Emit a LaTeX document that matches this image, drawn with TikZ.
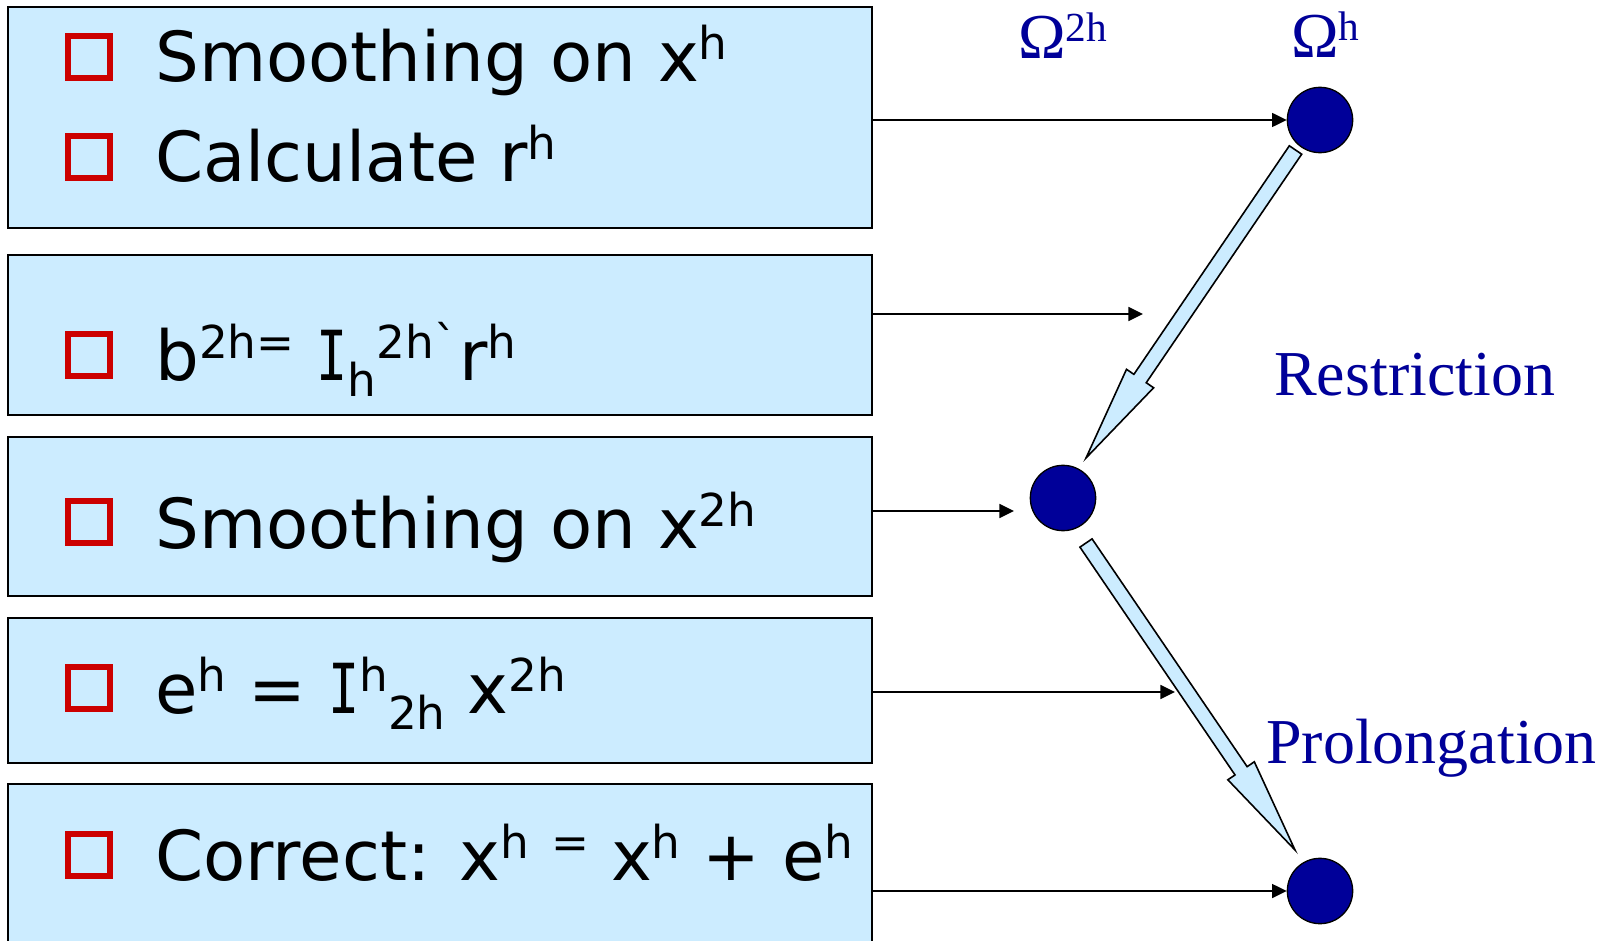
\documentclass[tikz,border=0pt]{standalone}
\usepackage{fontspec}
\setmainfont{DejaVu Sans}
\newfontfamily\serfont{Liberation Serif}
\newfontfamily\serifI{DejaVu Sans Mono}
\usetikzlibrary{arrows.meta,calc}
\definecolor{boxblue}{HTML}{CCECFF}
\definecolor{bulletred}{HTML}{CC0000}
\definecolor{navyblue}{HTML}{000099}
\newcommand\mysup[1]{\raisebox{16.5pt}{\fontsize{34pt}{38pt}\selectfont #1}}
\newcommand\mysub[1]{\raisebox{-12.5pt}{\fontsize{34pt}{38pt}\selectfont #1}}
\newcommand\omsup[1]{\raisebox{13pt}{\fontsize{31pt}{36pt}\selectfont #1}}
\newcommand\capI{\scalebox{0.75}[1]{\serifI I}}
\begin{document}
\begin{tikzpicture}[x=0.75pt, y=-0.75pt,
  box/.style={draw=black, line width=1.5pt, fill=boxblue, rectangle, inner sep=0pt, anchor=north west, minimum width=648pt},
  bul/.style={draw=bulletred, line width=4.5pt, fill=boxblue, rectangle, minimum size=32pt, inner sep=0pt},
  txt/.style={anchor=base west, inner sep=0pt, font=\fontsize{51.75pt}{60pt}\selectfont},
  dot/.style={circle, draw=black, line width=1pt, fill=navyblue, minimum size=49pt, inner sep=0pt},
  lbl/.style={anchor=base west, inner sep=0pt, text=navyblue, font=\serfont\fontsize{48pt}{56pt}\selectfont},
  link/.style={draw=black, line width=1.3pt, -{Triangle[length=11pt,width=10.5pt]}},
  fat/.style={draw=black, line width=1.2pt, fill=boxblue, line join=miter}]
\useasboundingbox (0,0) rectangle (1606,941);
\fill[white] (0,0) rectangle (1606,941);
\clip (0,0) rectangle (1606,941);

% boxes
\node[box, minimum height=165.75pt] (b1) at (7,6) {};
\node[box, minimum height=120pt] (b2) at (7,254) {};
\node[box, minimum height=119.25pt] (b3) at (7,436) {};
\node[box, minimum height=108.75pt] (b4) at (7,617) {};
\node[box, minimum height=135pt] (b5) at (7,783) {};

% bullets
\node[bul] (q1) at (89,57) {};
\node[bul] (q2) at (89,157) {};
\node[bul] (q3) at (89,355) {};
\node[bul] (q4) at (89,522) {};
\node[bul] (q5) at (89,688) {};
\node[bul] (q6) at (89,855) {};

% texts
\node[txt] (t1) at (155,82) {Smoothing on x\mysup{h}};
\node[txt] (t2) at (155,182) {Calculate r\mysup{h}};
\node[txt] (t3) at (155,380) {b\mysup{2h=} \capI\mysub{h}\mysup{2h}\mysup{ˋ}\kern2pt r\mysup{h}};
\node[txt] (t4) at (155,548) {Smoothing on x\mysup{2h}};
\node[txt] (t5) at (155,713) {e\mysup{h} = \capI\mysup{h}\mysub{2h} x\mysup{2h}};
\node[txt] (t6) at (155,880) {Correct: x\mysup{h} \mysup{=} x\mysup{h} + e\mysup{h}};

% circles
\node[dot] (ch) at (1320,120) {};
\node[dot] (cm) at (1063,498) {};
\node[dot] (cb) at (1320,891) {};

% labels
\node[lbl] (l1) at (1018,59) {Ω\omsup{2h}};
\node[lbl] (l2) at (1291,58) {Ω\omsup{h}};
\node[lbl] (l3) at (1274,395) {Restriction};
\node[lbl] (l4) at (1266,763) {Prolongation};

% horizontal arrows
\coordinate (e2) at (1143,314);
\coordinate (e3) at (1014,511);
\coordinate (e4) at (1175,692);
\draw[link] (b1.east |- ch.west) -- (ch.west);
\draw[link] (b2.east |- e2) -- (e2);
\draw[link] (b3.east |- e3) -- (e3);
\draw[link] (b4.east |- e4) -- (e4);
\draw[link] (b5.east |- cb.west) -- (cb.west);

% restriction block arrow
\coordinate (rT) at (1295.5,150);
\coordinate (rP) at (1086,458);
\coordinate (rB) at ($(rT)!0.742!(rP)$);
\draw[fat] ($(rT)!5.6pt!90:(rP)$) -- ($(rB)!5.6pt!90:(rP)$) -- ($(rB)!12.3pt!90:(rP)$) -- (rP)
  -- ($(rB)!12.3pt!-90:(rP)$) -- ($(rB)!5.6pt!-90:(rP)$) -- ($(rT)!5.6pt!-90:(rP)$) -- cycle;

% prolongation block arrow
\coordinate (pT) at (1086,543);
\coordinate (pP) at (1295,850);
\coordinate (pB) at ($(pT)!0.742!(pP)$);
\draw[fat] ($(pT)!5.5pt!90:(pP)$) -- ($(pB)!5.5pt!90:(pP)$) -- ($(pB)!12pt!90:(pP)$) -- (pP)
  -- ($(pB)!12pt!-90:(pP)$) -- ($(pB)!5.5pt!-90:(pP)$) -- ($(pT)!5.5pt!-90:(pP)$) -- cycle;
\end{tikzpicture}
\end{document}
